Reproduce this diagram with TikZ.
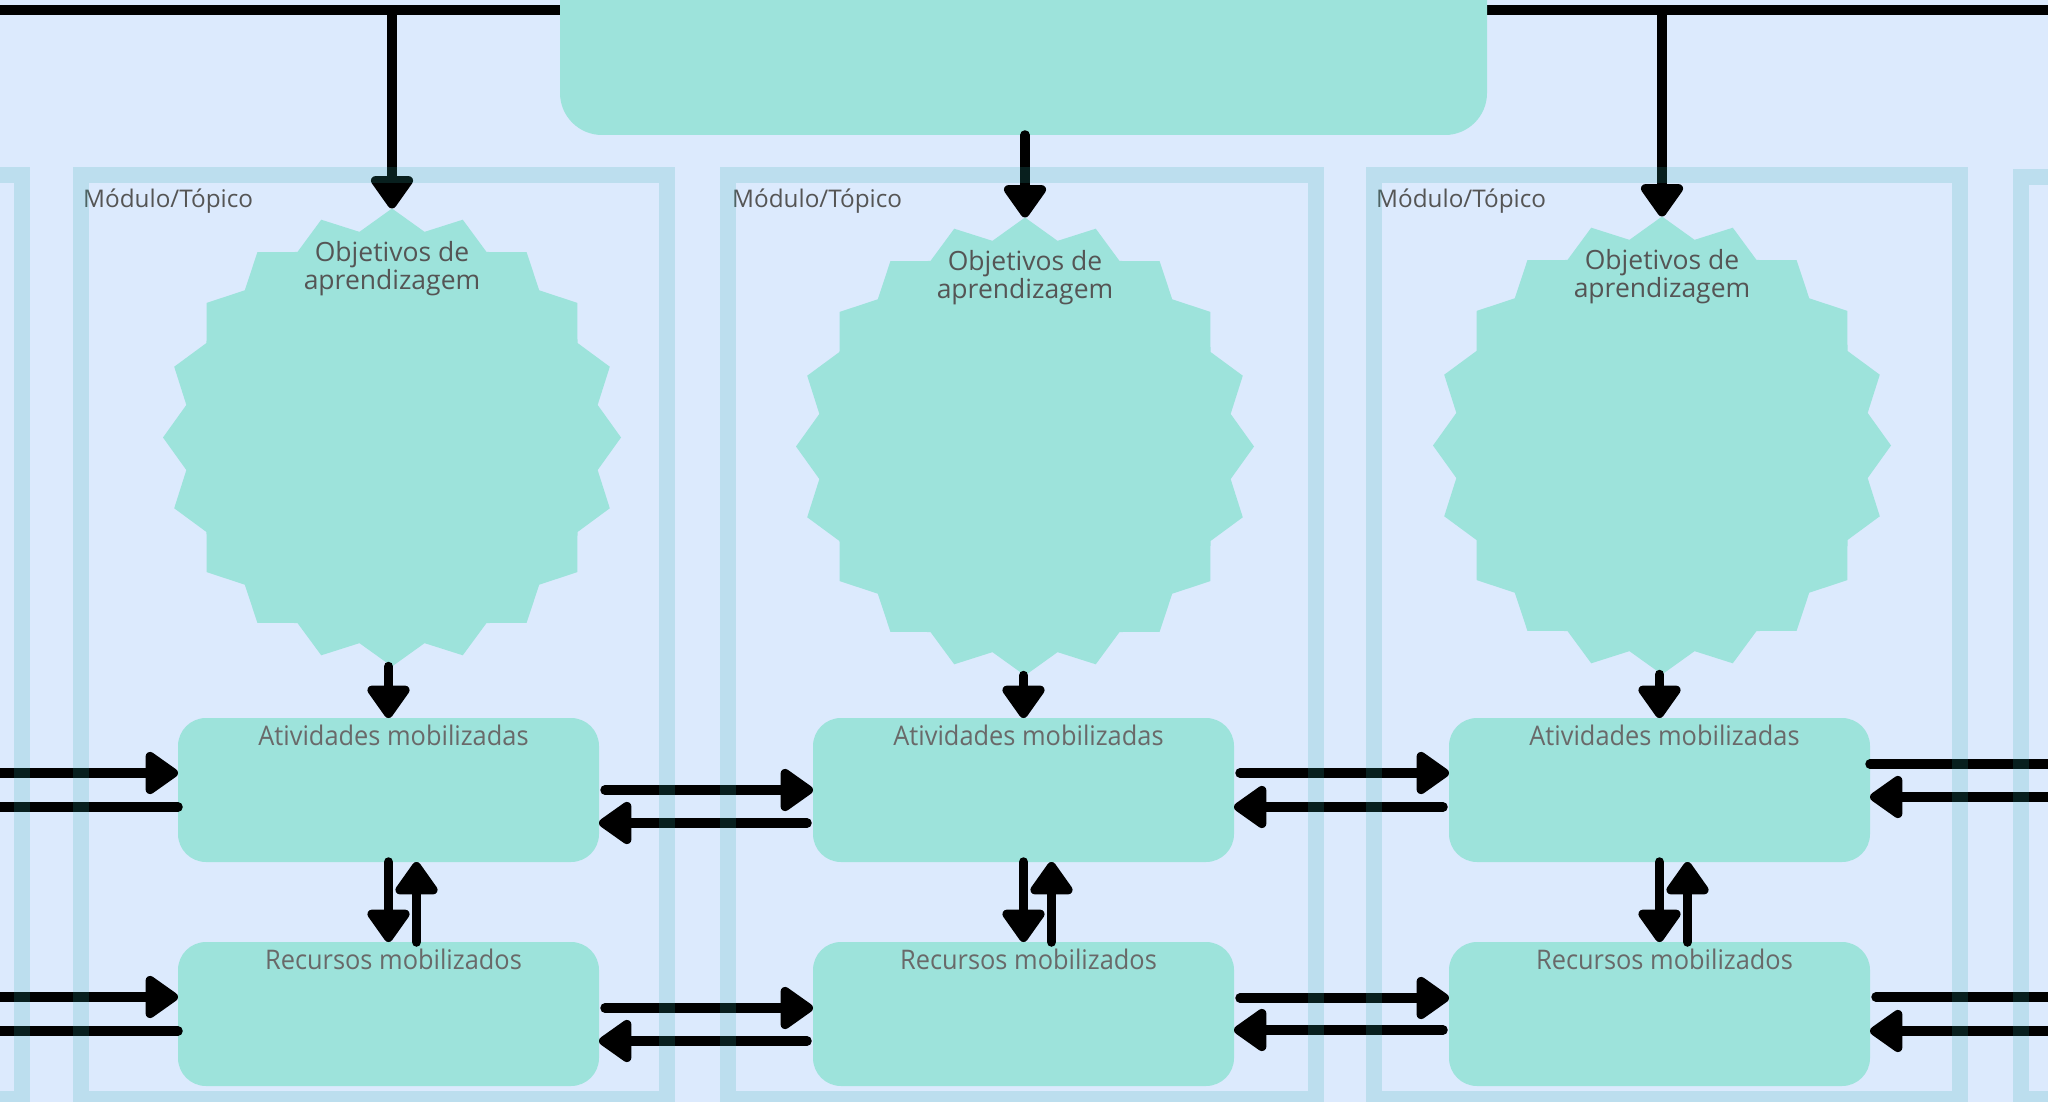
\documentclass[tikz,border=0pt]{standalone}
\usepackage{fontspec}
\setmainfont{Open Sans}
\newfontfamily\condfont[FakeStretch=0.94]{Open Sans}
\usepackage{tikz}
\usetikzlibrary{positioning}
\usetikzlibrary{shapes.geometric}
\usetikzlibrary{arrows.meta}

\definecolor{fundo}{RGB}{220,234,253}
\definecolor{verde}{RGB}{157,227,219}
\definecolor{moldura}{RGB}{48,173,170}
\definecolor{texto}{RGB}{85,85,85}
\definecolor{textoclaro}{RGB}{105,105,105}

\begin{document}
\begin{tikzpicture}[x=1pt, y=-1pt,
	caixa/.style={rectangle, rounded corners=28pt, fill=verde, minimum width=421pt, minimum height=144pt, inner sep=0pt, outer sep=0pt},
	estrela/.style={star, star points=20, star point ratio=1.1, fill=verde, minimum size=458pt, inner sep=0pt, outer sep=0pt},
	modulo/.style={anchor=base west, inner sep=0pt, text=texto, font=\fontsize{24.3}{28}\selectfont},
	objetivo/.style={align=center, inner sep=0pt, text=texto, font=\fontsize{26.5}{25.5}\selectfont},
	rotulo/.style={inner sep=0pt, text=textoclaro, font=\condfont\fontsize{27}{30}\selectfont},
	seta/.style={line width=9.5pt, line cap=round, -{Triangle[width=48pt, length=36pt, round]}},
	quadro/.style={draw=moldura, draw opacity=0.18, line width=16pt}
	]
	\useasboundingbox (0,0) rectangle (2048,1102);
	\clip (0,0) rectangle (2048,1102);
	\fill[fundo] (0,0) rectangle (2048,1102);

	% linha de cima e caixa principal
	\coordinate (linhaE) at (-20,10.5);
	\coordinate (linhaD) at (2070,10.5);
	\draw[line width=10pt] (linhaE) -- (linhaD);
	\node[caixa, rounded corners=42pt, minimum width=927pt, minimum height=185pt] (topo) at (1023.5,42.5) {};

	\node[estrela] (s1) at (392,437.5) {};
	\node[estrela] (s2) at (1025,446.5) {};
	\node[estrela] (s3) at (1662,445.5) {};

	\node[caixa] (a1) at (388.5,790) {};
	\node[caixa] (a2) at (1023.5,790) {};
	\node[caixa] (a3) at (1659.5,790) {};
	\node[caixa] (r1) at (388.5,1014) {};
	\node[caixa] (r2) at (1023.5,1014) {};
	\node[caixa] (r3) at (1659.5,1014) {};

	\node[modulo] (m1) at (83,208) {Módulo/Tópico};
	\node[modulo] (m2) at (732,208) {Módulo/Tópico};
	\node[modulo] (m3) at (1376,208) {Módulo/Tópico};

	\node[objetivo, below=33pt of s1.north] (o1) {Objetivos de\\aprendizagem};
	\node[objetivo, below=33pt of s2.north] (o2) {Objetivos de\\aprendizagem};
	\node[objetivo, below=33pt of s3.north] (o3) {Objetivos de\\aprendizagem};

	\node[rotulo, below=7pt of a1.north, xshift=5pt] (ta1) {Atividades mobilizadas};
	\node[rotulo, below=7pt of a2.north, xshift=5pt] (ta2) {Atividades mobilizadas};
	\node[rotulo, below=7pt of a3.north, xshift=5pt] (ta3) {Atividades mobilizadas};
	\node[rotulo, below=7pt of r1.north, xshift=5pt] (tr1) {Recursos mobilizados};
	\node[rotulo, below=7pt of r2.north, xshift=5pt] (tr2) {Recursos mobilizados};
	\node[rotulo, below=7pt of r3.north, xshift=5pt] (tr3) {Recursos mobilizados};

	% setas de cima
	\draw[seta] (s1.north |- linhaE) -- (s1.north);
	\draw[seta] (s2.north |- topo.south) -- (s2.north);
	\draw[seta] (s3.north |- linhaE) -- (s3.north);

	\draw[seta] (a1.north |- s1.south) -- (a1.north);
	\draw[seta] (a2.north |- s2.south) -- (a2.north);
	\draw[seta] (a3.north |- s3.south) -- (a3.north);

	\draw[seta] (a1.south) -- (r1.north);
	\draw[seta] ([xshift=28pt]r1.north) -- ([xshift=28pt]a1.south);
	\draw[seta] (a2.south) -- (r2.north);
	\draw[seta] ([xshift=28pt]r2.north) -- ([xshift=28pt]a2.south);
	\draw[seta] (a3.south) -- (r3.north);
	\draw[seta] ([xshift=28pt]r3.north) -- ([xshift=28pt]a3.south);

	% setas entre as caixas
	\draw[seta, shorten <=6pt] (a1.east) -- (a2.west);
	\draw[seta, shorten <=6pt] ([yshift=-33pt]a2.west) -- ([yshift=-33pt]a1.east);
	\draw[seta, shorten <=6pt] ([yshift=17pt]a2.east) -- ([yshift=17pt]a3.west);
	\draw[seta, shorten <=6pt] ([yshift=-17pt]a3.west) -- ([yshift=-17pt]a2.east);
	\draw[seta, shorten <=6pt] ([yshift=6pt]r1.east) -- ([yshift=6pt]r2.west);
	\draw[seta, shorten <=6pt] ([yshift=-27pt]r2.west) -- ([yshift=-27pt]r1.east);
	\draw[seta, shorten <=6pt] ([yshift=16pt]r2.east) -- ([yshift=16pt]r3.west);
	\draw[seta, shorten <=6pt] ([yshift=-16pt]r3.west) -- ([yshift=-16pt]r2.east);

	% setas que saem da folha
	\coordinate (esqA) at (-100,790);
	\coordinate (esqR) at (-100,1014);
	\coordinate (dirA) at (2150,790);
	\coordinate (dirR) at (2150,1014);
	\draw[seta] ([yshift=17pt]esqA) -- ([yshift=17pt]a1.west);
	\draw[seta] ([yshift=-17pt]a1.west) -- ([yshift=-17pt]esqA);
	\draw[seta] ([yshift=17pt]esqR) -- ([yshift=17pt]r1.west);
	\draw[seta] ([yshift=-17pt]r1.west) -- ([yshift=-17pt]esqR);
	\draw[seta] ([yshift=26pt]a3.east) -- ([yshift=26pt]dirA);
	\draw[seta] ([yshift=-7pt]dirA) -- ([yshift=-7pt]a3.east);
	\draw[seta, shorten <=6pt] ([yshift=17pt]r3.east) -- ([yshift=17pt]dirR);
	\draw[seta] ([yshift=-17pt]dirR) -- ([yshift=-17pt]r3.east);

	% molduras
	\draw[quadro] (-600,175.5) rectangle (22,1099);
	\draw[quadro] (80.5,175.5) rectangle (666.5,1099);
	\draw[quadro] (728,175.5) rectangle (1316,1099);
	\draw[quadro] (1373.5,175.5) rectangle (1959.5,1099);
	\draw[quadro] (2021,177) rectangle (2600,1099);
\end{tikzpicture}
\end{document}
